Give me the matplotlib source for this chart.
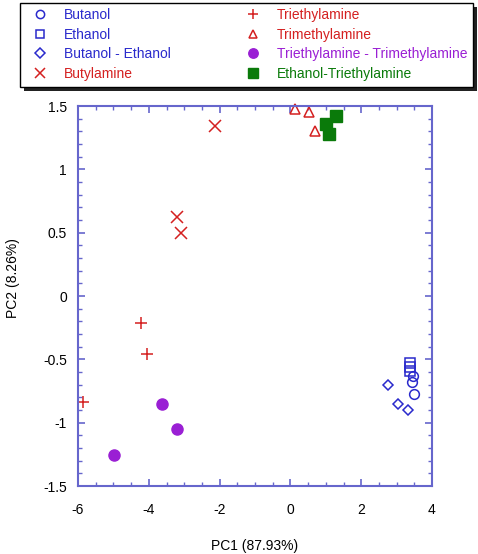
import matplotlib
matplotlib.use("Agg")
import matplotlib.pyplot as plt
from matplotlib.ticker import MultipleLocator
from matplotlib.patches import Rectangle, Shadow

plt.rcParams['font.family'] = ['Liberation Sans', 'DejaVu Sans']

BLUE = '#2a2acc'
RED = '#d42020'
PURPLE = '#9a1fd4'
GREEN = '#0a7a0a'
AXC = '#6666cc'

butanol_x = [3.45, 3.44, 3.50]
butanol_y = [-0.63, -0.675, -0.77]
ethanol_x = [3.38, 3.38, 3.38]
ethanol_y = [-0.53, -0.56, -0.59]
buet_x = [2.77, 3.05, 3.33]
buet_y = [-0.70, -0.85, -0.90]
butylamine_x = [-2.13, -3.19, -3.09]
butylamine_y = [1.345, 0.625, 0.50]
triethyl_x = [-4.23, -4.04, -5.85]
triethyl_y = [-0.21, -0.455, -0.84]
trimethyl_x = [0.12, 0.53, 0.69]
trimethyl_y = [1.48, 1.455, 1.305]
tt_x = [-3.62, -3.21, -4.97]
tt_y = [-0.85, -1.05, -1.255]
et_x = [1.00, 1.10, 1.30]
et_y = [1.355, 1.28, 1.42]

W, H = 478, 554
fig = plt.figure(figsize=(W/100, H/100), dpi=100)
ax = fig.add_axes([78/W, 1-486/H, (432-78)/W, (486-106)/H])

h = []
h.append(ax.plot(butanol_x, butanol_y, 'o', mfc='none', mec=BLUE, mew=1.1, ms=7, label='Butanol', clip_on=False)[0])
h.append(ax.plot(ethanol_x, ethanol_y, 's', mfc='none', mec=BLUE, mew=1.1, ms=7, label='Ethanol', clip_on=False)[0])
h.append(ax.plot(buet_x, buet_y, 'D', mfc='none', mec=BLUE, mew=1.1, ms=5.5, label='Butanol - Ethanol', clip_on=False)[0])
h.append(ax.plot(butylamine_x, butylamine_y, 'x', color=RED, mew=1.1, ms=8, label='Butylamine', clip_on=False)[0])
h.append(ax.plot(triethyl_x, triethyl_y, '+', color=RED, mew=1.1, ms=8, label='Triethylamine', clip_on=False)[0])
h.append(ax.plot(trimethyl_x, trimethyl_y, '^', mfc='none', mec=RED, mew=1.1, ms=7, label='Trimethylamine', clip_on=False)[0])
h.append(ax.plot(tt_x, tt_y, 'o', color=PURPLE, ms=8, label='Triethylamine - Trimethylamine', clip_on=False)[0])
h.append(ax.plot(et_x, et_y, 's', color=GREEN, ms=8, label='Ethanol-Triethylamine', clip_on=False)[0])

ax.set_xlim(-6, 4)
ax.set_ylim(-1.5, 1.5)
ax.xaxis.set_minor_locator(MultipleLocator(0.5))
ax.yaxis.set_minor_locator(MultipleLocator(0.1))
ax.tick_params(which='both', direction='in', top=True, right=True, color=AXC, labelsize=10)
ax.tick_params(which='major', length=5, width=1.2)
ax.tick_params(which='minor', length=3, width=1)
ax.tick_params(axis='x', pad=12)
ax.tick_params(axis='y', pad=8)
ax.set_xticks([-6, -4, -2, 0, 2, 4])
ax.set_xticklabels(['-6', '-4', '-2', '0', '2', '4'])
ax.set_yticks([-1.5, -1, -0.5, 0, 0.5, 1, 1.5])
ax.set_yticklabels(['-1.5', '-1', '-0.5', '0', '0.5', '1', '1.5'])
for s in ax.spines.values():
    s.set_color(AXC)
    s.set_linewidth(1.5)
ax.set_xlabel('PC1 (87.93%)', fontsize=10, labelpad=16)
ax.set_ylabel('PC2 (8.26%)', fontsize=10)
ax.yaxis.set_label_coords((20-78)/354, (486-278)/380)

# legend frame with shadow
rect = Rectangle((20/W, 1-87/H), 453/W, 84/H, transform=fig.transFigure,
                 facecolor='white', edgecolor='black', linewidth=1.0, zorder=1)
sh = Shadow(rect, 3/W, -3/H, facecolor='#222222', edgecolor='none', alpha=1, zorder=0.9)
sh.set_transform(fig.transFigure)
fig.add_artist(sh)
fig.add_artist(rect)

colors = [BLUE, BLUE, BLUE, RED, RED, RED, PURPLE, GREEN]
common = dict(fontsize=10, frameon=False, handlelength=1.2, handletextpad=1.1,
              labelspacing=0.4, borderpad=0, numpoints=1, borderaxespad=0,
              markerscale=0.85)
for idx, x0 in [((0, 1, 2, 3), 32), ((4, 5, 6, 7), 245)]:
    hs = [h[i] for i in idx]
    lg = fig.legend(hs, [x.get_label() for x in hs], loc='upper left',
                    bbox_to_anchor=(x0/W, 1-8/H), **common)
    lg.set_zorder(2)
    for t, i in zip(lg.get_texts(), idx):
        t.set_color(colors[i])

fig.savefig('out.png', dpi=100)
